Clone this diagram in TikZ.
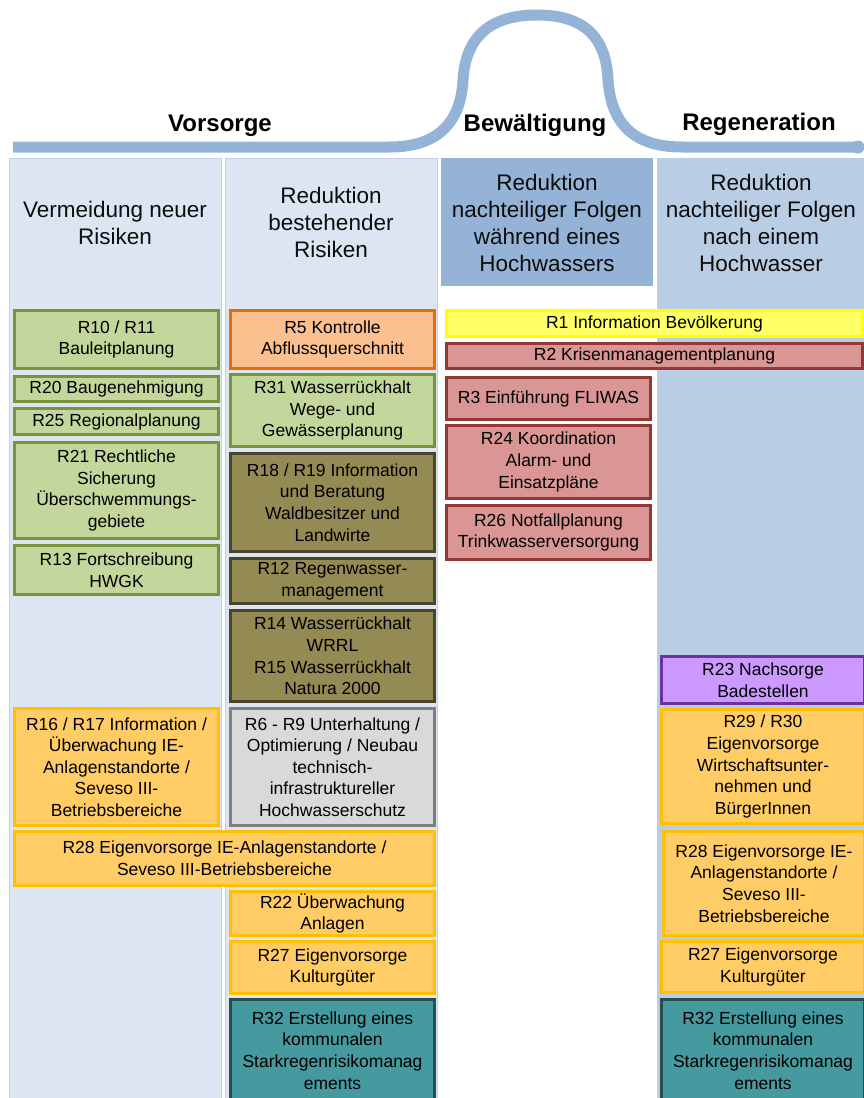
\documentclass[tikz,border=0pt]{standalone}
\usepackage{fontspec}
\setmainfont{Liberation Sans}
\definecolor{colA}{HTML}{DCE6F2}
\definecolor{colAline}{HTML}{C5D1E0}
\definecolor{colC}{HTML}{95B3D7}
\definecolor{colD}{HTML}{B9CDE5}
\definecolor{curve}{HTML}{95B3D7}
\definecolor{greenF}{HTML}{C3D69B}
\definecolor{greenL}{HTML}{77933C}
\definecolor{orangeF}{HTML}{FAC090}
\definecolor{orangeL}{HTML}{E46C0A}
\definecolor{oliveF}{HTML}{948A54}
\definecolor{oliveL}{HTML}{4A452A}
\definecolor{redF}{HTML}{D99694}
\definecolor{redL}{HTML}{953735}
\definecolor{yelF}{HTML}{FFFF66}
\definecolor{yelL}{HTML}{FFFF00}
\definecolor{goldF}{HTML}{FFCC66}
\definecolor{goldL}{HTML}{FFC000}
\definecolor{greyF}{HTML}{D9D9D9}
\definecolor{greyL}{HTML}{7F7F7F}
\definecolor{tealF}{HTML}{449A9E}
\definecolor{tealL}{HTML}{254E50}
\definecolor{purF}{HTML}{CC99FF}
\definecolor{purL}{HTML}{7030A0}
\newcommand{\rbox}[7]{%
  \pgfmathsetmacro\bw{#5-#3-3}%
  \pgfmathsetmacro\bh{#6-#4-3}%
  \node[rb,#2,minimum width=\bw pt,minimum height=\bh pt] (#1) at ({(#3+#5)/2},{(#4+#6)/2}) {#7};}
\tikzset{
  rb/.style={rectangle, line width=2.8pt, inner sep=0pt, align=center,
    font=\fontsize{17.5}{21.6}\selectfont, text=black},
  green/.style={fill=greenF, draw=greenL},
  orange/.style={fill=orangeF, draw=orangeL},
  olive/.style={fill=oliveF, draw=oliveL},
  red/.style={fill=redF, draw=redL},
  yel/.style={fill=yelF, draw=yelL},
  gold/.style={fill=goldF, draw=goldL},
  grey/.style={fill=greyF, draw=greyL},
  teal/.style={fill=tealF, draw=tealL},
  pur/.style={fill=purF, draw=purL},
  head/.style={align=center, font=\fontsize{22.5}{27}\selectfont, text=black!95},
  phase/.style={anchor=base, font=\fontsize{24}{28}\selectfont\bfseries, text=black},
  col/.style={draw=colAline, line width=0.8pt}
}
\begin{document}
\begin{tikzpicture}[x=1pt,y=-1pt]
\useasboundingbox (0,0) rectangle (864,1098);
\clip (0,0) rectangle (864,1098);
% columns
\fill[col, fill=colA] (9,158) rectangle (221,1110);
\fill[col, fill=colA] (225,158) rectangle (437,1110);
\draw[colAline, line width=0.8pt] (9,158) rectangle (221,1110);
\draw[colAline, line width=0.8pt] (225,158) rectangle (437,1110);
\fill[colD] (657,158) rectangle (870,1110);
\fill[colC] (441,158) rectangle (653,286);
% curve
\draw[curve, line width=11pt, line cap=butt]
  (13,147) -- (390,147) .. controls (440,147) and (461,120) .. (463,80)
  .. controls (466,30) and (498,15) .. (537,15)
  .. controls (576,15) and (606,30) .. (608,80)
  .. controls (611,122) and (632,147) .. (682,147) -- (858,147);
\coordinate (cend) at (858,147);
\fill[curve] (cend) circle (6.5pt);
% phase titles
\node[phase] (vor) at (220,131) {Vorsorge};
\node[phase] (bew) at (535,131) {Bewältigung};
\node[phase] (reg) at (759,130) {Regeneration};
% headers
\node[head] (h1) at (115,223) {Vermeidung neuer\\Risiken};
\node[head] (h2) at (331,222) {Reduktion\\bestehender\\Risiken};
\node[head] (h3) at (547,223) {Reduktion\\nachteiliger Folgen\\während eines\\Hochwassers};
\node[head] (h4) at (761,223) {Reduktion\\nachteiliger Folgen\\nach einem\\Hochwasser};
% column 1
\rbox{r10}{green}{13}{309}{220}{370}{R10 / R11\\Bauleitplanung}
\rbox{r20}{green}{13}{375}{220}{403}{R20 Baugenehmigung}
\rbox{r25}{green}{13}{407}{220}{436}{R25 Regionalplanung}
\rbox{r21}{green}{13}{441}{220}{540}{R21 Rechtliche\\Sicherung\\Überschwemmungs-\\gebiete}
\rbox{r13}{green}{13}{544}{220}{596}{R13 Fortschreibung\\HWGK}
\rbox{r16}{gold}{13}{707}{220}{827}{R16 / R17 Information /\\Überwachung IE-\\Anlagenstandorte /\\Seveso III-\\Betriebsbereiche}
\rbox{r28a}{gold}{13}{830}{436}{887}{R28 Eigenvorsorge IE-Anlagenstandorte /\\Seveso III-Betriebsbereiche}
% column 2
\rbox{r5}{orange}{229}{309}{436}{370}{R5 Kontrolle\\Abflussquerschnitt}
\rbox{r31}{green}{229}{373}{436}{448}{R31 Wasserrückhalt\\Wege- und\\Gewässerplanung}
\rbox{r18}{olive}{229}{452}{436}{553}{R18 / R19 Information\\und Beratung\\Waldbesitzer und\\Landwirte}
\rbox{r12}{olive}{229}{557}{436}{605}{R12 Regenwasser-\\management}
\rbox{r14}{olive}{229}{609}{436}{703}{R14 Wasserrückhalt\\WRRL\\R15 Wasserrückhalt\\Natura 2000}
\rbox{r6}{grey}{229}{707}{436}{827}{R6 - R9 Unterhaltung /\\Optimierung / Neubau\\technisch-\\infrastruktureller\\Hochwasserschutz}
\rbox{r22}{gold}{229}{890}{436}{937}{R22 Überwachung\\Anlagen}
\rbox{r27a}{gold}{229}{940}{436}{995}{R27 Eigenvorsorge\\Kulturgüter}
\rbox{r32a}{teal}{229}{998}{436}{1103}{R32 Erstellung eines\\kommunalen\\Starkregenrisikomanag\\ements}
% column 3
\rbox{r1}{yel}{445}{309}{864}{338}{R1 Information Bevölkerung}
\rbox{r2}{red}{445}{342}{864}{370}{R2 Krisenmanagementplanung}
\rbox{r3}{red}{445}{376}{652}{421}{R3 Einführung FLIWAS}
\rbox{r24}{red}{445}{424}{652}{500}{R24 Koordination\\Alarm- und\\Einsatzpläne}
\rbox{r26}{red}{445}{504}{652}{561}{R26 Notfallplanung\\Trinkwasserversorgung}
% column 4
\rbox{r23}{pur}{660}{655}{866}{705}{R23 Nachsorge\\Badestellen}
\rbox{r29}{gold}{660}{708}{866}{825}{R29 / R30\\Eigenvorsorge\\Wirtschaftsunter-\\nehmen und\\BürgerInnen}
\rbox{r28b}{gold}{662}{830}{866}{937}{R28 Eigenvorsorge IE-\\Anlagenstandorte /\\Seveso III-\\Betriebsbereiche}
\rbox{r27b}{gold}{660}{940}{866}{994}{R27 Eigenvorsorge\\Kulturgüter}
\rbox{r32b}{teal}{660}{998}{866}{1103}{R32 Erstellung eines\\kommunalen\\Starkregenrisikomanag\\ements}
\end{tikzpicture}
\end{document}
